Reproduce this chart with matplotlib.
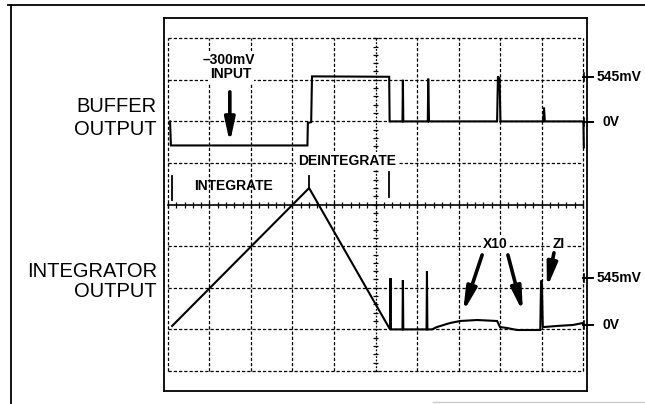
import matplotlib.pyplot as plt
from matplotlib.lines import Line2D
import numpy as np

# scope screen: 10 horizontal divisions, 8 vertical divisions, 545 mV per division
MV_PER_DIV = 545
BUF_ZERO = 6.0   # division where buffer 0V sits
INT_ZERO = 1.0   # division where integrator 0V sits

# buffer output trace (time in divisions, level in mV)
buf_t = [0.05, 0.07, 0.10, 3.36, 3.37, 3.45, 3.47, 5.33, 5.34,
         5.65, 5.66, 5.67, 6.26, 6.27, 6.29,
         7.93, 7.95, 7.99, 8.01, 9.04, 9.06, 9.08, 10.01, 10.02]
buf_mv = [0, -315, -315, -315, -20, -10, 590, 585, 0,
          0, 545, 0, 0, 560, 0,
          0, 590, 560, 0, 0, 180, 0, 0, -340]

# integrator output trace
int_t = [0.10, 3.40, 5.35, 5.36, 5.37, 5.65, 5.66, 5.67, 6.23, 6.24, 6.25,
         6.36, 6.48, 6.80, 7.04, 7.45, 7.93, 8.00, 8.17, 8.41, 8.89,
         8.97, 8.99, 9.01, 9.03, 9.06, 9.37, 9.76, 10.0]
int_mv = [45, 1852, 0, 673, 0, 0, 647, 0, 0, 765, 0,
          0, 31, 84, 110, 123, 110, 31, 18, -8, -8,
          -8, 640, 600, 40, 31, 45, 58, 84]

# reference marks on the right edge (division level, label)
buf_marks = [(7.07, '545mV'), (5.99, '0V')]
int_marks = [(2.24, '545mV'), (1.11, '0V')]

W, H = 645, 404
fig = plt.figure(figsize=(W / 100, H / 100), dpi=100)
fig.patch.set_facecolor('white')

# axes frame = solid scope bezel
ax = fig.add_axes([164 / W, 1 - 391 / H, 423 / W, 373 / H])
ax.set_xlim(-0.096, 10.096)
ax.set_ylim(-0.481, 8.486)
ax.set_xticks([])
ax.set_yticks([])
for s in ax.spines.values():
    s.set_linewidth(1.3)

# dotted graticule
dash = (0, (2.6, 1.6))
for x in range(11):
    if x != 5:
        ax.axvline(x, ymin=0.481 / 8.967, ymax=8.481 / 8.967, color='black',
                   lw=0.9, ls=dash, zorder=1)
for y in range(9):
    if y != 4:
        ax.axhline(y, xmin=0.096 / 10.192, xmax=10.096 / 10.192, color='black',
                   lw=0.9, ls=dash, zorder=1)

# centre axes with fine ticks
ax.plot([0, 10], [4, 4], color='black', lw=1.2, zorder=1)
ax.vlines(np.arange(0, 10.01, 0.2), 3.93, 4.07, color='black', lw=0.9, zorder=1)
ax.plot([5, 5], [0, 8], color='black', lw=0.9, ls=(0, (1.5, 1.2)), zorder=1)
ax.hlines(np.arange(0, 8.01, 0.2), 4.93, 5.07, color='black', lw=0.9, zorder=1)

# traces
buf_y = BUF_ZERO + np.array(buf_mv) / MV_PER_DIV
int_y = INT_ZERO + np.array(int_mv) / MV_PER_DIV
ax.plot(buf_t, buf_y, color='black', lw=1.5, zorder=3, solid_joinstyle='miter')
ax.plot(int_t, int_y, color='black', lw=1.5, zorder=3, solid_joinstyle='miter')

# integrate / deintegrate phase markers
ax.plot([0.096, 0.096], [4.11, 4.69], color='black', lw=1.3, zorder=3)
ax.plot([5.33, 5.33], [4.18, 4.78], color='black', lw=1.3, zorder=3)
ax.plot([3.40, 3.40], [4.40, 4.68], color='black', lw=1.3, zorder=3)

bold = dict(family=['Liberation Sans', 'DejaVu Sans'], fontweight='bold',
            fontsize=10, color='black')
wbox = dict(facecolor='white', edgecolor='none', pad=1.5)

ax.text(1.47, 7.48, '\u2013300mV', ha='center', va='center', zorder=4, bbox=wbox, **bold)
ax.text(1.52, 7.14, 'INPUT', ha='center', va='center', zorder=4, bbox=wbox, **bold)
ax.text(4.31, 5.05, 'DEINTEGRATE', ha='center', va='center', zorder=4, bbox=wbox, **bold)
ax.text(1.57, 4.45, 'INTEGRATE', ha='center', va='center', zorder=4, **bold)
ax.text(7.88, 3.05, 'X10', ha='center', va='center', zorder=4, bbox=wbox, **bold)
ax.text(9.42, 3.05, 'ZI', ha='center', va='center', zorder=4, bbox=wbox, **bold)

arrow = dict(arrowstyle='-|>,head_width=0.3,head_length=1.4', lw=2.6,
             color='black', shrinkA=0, shrinkB=0)
ax.annotate('', xy=(1.49, 5.48), xytext=(1.49, 6.71), arrowprops=arrow, zorder=5)
ax.annotate('', xy=(7.11, 1.42), xytext=(7.57, 2.79), arrowprops=arrow, zorder=5)
ax.annotate('', xy=(8.55, 1.42), xytext=(8.19, 2.79), arrowprops=arrow, zorder=5)
ax.annotate('', xy=(9.13, 2.00), xytext=(9.30, 2.84), arrowprops=arrow, zorder=5)

# right edge level marks
for lvl, lab in buf_marks + int_marks:
    ax.plot([10.0, 10.24], [lvl, lvl], color='black', lw=1.4, clip_on=False, zorder=4)
    ax.plot([10.02, 10.02], [lvl - 0.1, lvl + 0.1], color='black', lw=1.2,
            clip_on=False, zorder=4)
    xl = 10.32 if lab != '0V' else 10.46
    ax.text(xl, lvl, lab, ha='left', va='center', clip_on=False, **bold)

# left channel labels
reg = dict(family=['Liberation Sans', 'DejaVu Sans'], fontsize=14.5, color='black',
           ha='right', va='baseline', clip_on=False)
ax.text(-0.265, 6.23, 'BUFFER', **reg)
ax.text(-0.265, 5.67, 'OUTPUT', **reg)
ax.text(-0.265, 2.26, 'INTEGRATOR', **reg)
ax.text(-0.265, 1.78, 'OUTPUT', **reg)

# outer page frame
fig.add_artist(Line2D([8 / W, 1], [1 - 5 / H, 1 - 5 / H], transform=fig.transFigure,
                      color='black', lw=1.3))
fig.add_artist(Line2D([11 / W, 11 / W], [1 - 5 / H, 0], transform=fig.transFigure,
                      color='black', lw=1.3))
fig.add_artist(Line2D([433 / W, 1], [1 - 402 / H, 1 - 402 / H], transform=fig.transFigure,
                      color='0.8', lw=1.0))

fig.savefig('out.png', dpi=100, facecolor='white')
